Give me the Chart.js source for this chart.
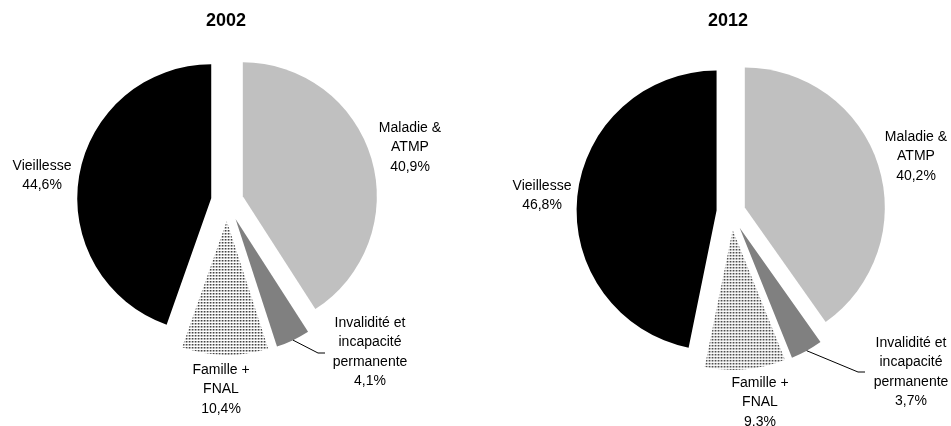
<!DOCTYPE html>
<html>
<head>
<meta charset="utf-8">
<script src="https://cdn.jsdelivr.net/npm/chart.js@4/dist/chart.umd.min.js"></script>
<style>
  html, body { margin: 0; padding: 0; background: #fff; }
  #wrap { position: relative; width: 951px; height: 426px; }
  .pie { position: absolute; top: 0; }
</style>
</head>
<body>
<div id="wrap">
  <canvas id="pie2002" class="pie" style="left:0" width="475" height="426"></canvas>
  <canvas id="pie2012" class="pie" style="left:476px" width="475" height="426"></canvas>
</div>
<script>
// ordre : sens horaire depuis midi
const categories = ['Maladie & ATMP', 'Invalidité et incapacité permanente', 'Famille + FNAL', 'Vieillesse'];
const labelLines = [['Maladie &', 'ATMP'], ['Invalidité et', 'incapacité', 'permanente'], ['Famille +', 'FNAL'], ['Vieillesse']];
const values2002 = [40.9, 4.1, 10.4, 44.6];
const values2012 = [40.2, 3.7, 9.3, 46.8];
const pctText2002 = ['40,9%', '4,1%', '10,4%', '44,6%'];
const pctText2012 = ['40,2%', '3,7%', '9.3%', '46,8%'];

const FONT = '"Liberation Sans", Arial, sans-serif';

// trame pointillée de la part Famille
function dotPattern() {
    const c = document.createElement('canvas');
    c.width = 3;
    c.height = 3;
    const g = c.getContext('2d');
    g.fillStyle = '#fff';
    g.fillRect(0, 0, 3, 3);
    g.fillStyle = '#c4c4c4';
    g.fillRect(1, 1, 1, 1);
    g.fillStyle = '#8a8a8a';
    g.fillRect(1, 0, 1, 1);
    g.fillRect(0, 1, 1, 1);
    g.fillStyle = '#2e2e2e';
    g.fillRect(0, 0, 1, 1);
    return g.createPattern(c, 'repeat');
}

const colors = ['#c0c0c0', '#808080', dotPattern(), '#000000'];

// parts détachées : on décale chaque arc le long de sa bissectrice
function explodePlugin(dist) {
    return {
        id: 'explode',
        beforeDatasetsDraw(chart) {
            chart.getDatasetMeta(0).data.forEach((arc, i) => {
                if (arc._exploded) return;
                arc._exploded = true;
                const baseDraw = arc.draw;
                arc.draw = function (ctx, area) {
                    const mid = (this.startAngle + this.endAngle) / 2;
                    ctx.save();
                    ctx.translate(Math.cos(mid) * dist[i], Math.sin(mid) * dist[i]);
                    baseDraw.call(this, ctx, area);
                    ctx.restore();
                };
            });
        }
    };
}

function annotatePlugin(cfg) {
    return {
        id: 'annotate',
        afterDatasetsDraw(chart) {
            const ctx = chart.ctx;
            const arcs = chart.getDatasetMeta(0).data;
            const cx = arcs[0].x, cy = arcs[0].y;
            ctx.save();
            ctx.fillStyle = '#000';
            ctx.textAlign = 'center';
            ctx.textBaseline = 'middle';
            ctx.font = 'bold 18px ' + FONT;
            ctx.fillText(cfg.title, cx + cfg.titleDx, cfg.titleY);

            ctx.font = '14px ' + FONT;
            labelLines.forEach((lines, i) => {
                const [dx, dy] = cfg.labelAt[i];
                const all = lines.concat([cfg.pct[i]]);
                all.forEach((t, k) => ctx.fillText(t, cx + dx, cy + dy + k * cfg.lineHeight));
            });

            // trait de rappel pour la petite part
            const li = cfg.leaderIndex;
            const arc = arcs[li];
            const mid = (arc.startAngle + arc.endAngle) / 2;
            const r = cfg.explode[li] + arc.outerRadius;
            ctx.beginPath();
            ctx.moveTo(cx + Math.cos(mid) * r, cy + Math.sin(mid) * r);
            cfg.leaderPath.forEach(([dx, dy]) => ctx.lineTo(cx + dx, cy + dy));
            ctx.strokeStyle = '#000';
            ctx.lineWidth = 1;
            ctx.stroke();
            ctx.restore();
        }
    };
}

function makePie(id, values, cfg) {
    return new Chart(document.getElementById(id), {
        type: 'pie',
        data: {
            labels: categories,
            datasets: [{
                data: values,
                backgroundColor: colors,
                borderWidth: 0,
                radius: cfg.radius,
                clip: false
            }]
        },
        options: {
            responsive: false,
            animation: false,
            events: [],
            devicePixelRatio: 1,
            layout: { padding: cfg.padding },
            plugins: {
                legend: { display: false },
                tooltip: { enabled: false }
            }
        },
        plugins: [explodePlugin(cfg.explode), annotatePlugin(cfg)]
    });
}

makePie('pie2002', values2002, {
    title: '2002',
    pct: pctText2002,
    radius: 134,
    padding: { left: 0, right: 21, top: 0, bottom: 24 },
    explode: [16.5, 20, 20, 16],
    titleDx: -1,
    titleY: 21,
    lineHeight: 19.5,
    labelAt: [[183, -73], [143, 122], [-6, 169], [-185, -35]],
    leaderIndex: 1,
    leaderPath: [[91, 152], [98, 152]]
});

makePie('pie2012', values2012, {
    title: '2012',
    pct: pctText2012,
    radius: 140,
    padding: { left: 35, right: 0, top: 0, bottom: 2 },
    explode: [14.5, 18, 18, 14.5],
    titleDx: -3,
    titleY: 21,
    lineHeight: 19.5,
    labelAt: [[185, -75], [180, 131], [29, 171], [-189, -26]],
    leaderIndex: 1,
    leaderPath: [[127, 160], [134, 160]]
});
</script>
</body>
</html>
